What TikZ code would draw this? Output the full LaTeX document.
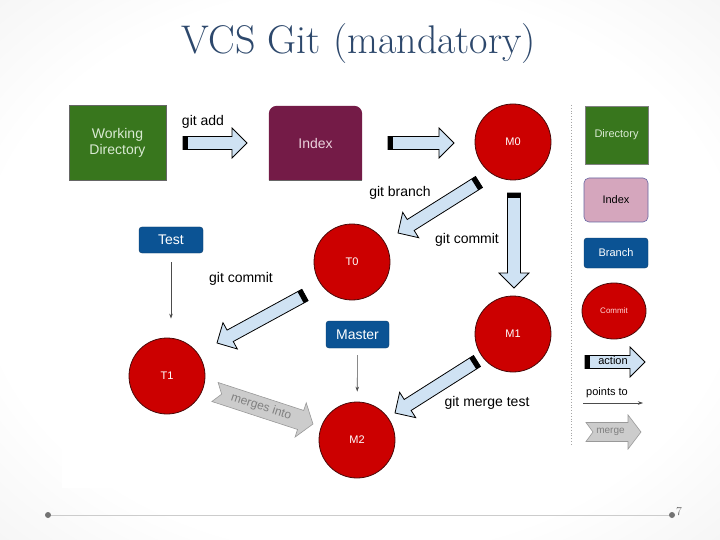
\documentclass[tikz,border=0pt]{standalone}
\usepackage{fontspec}
\setsansfont{Liberation Sans}
\usetikzlibrary{calc,shapes.geometric,arrows.meta}
\definecolor{wdgreen}{HTML}{38761D}
\definecolor{wdtext}{HTML}{D9EAD3}
\definecolor{idxpurple}{HTML}{741B47}
\definecolor{idxtext}{HTML}{EAD1DC}
\definecolor{idxpink}{HTML}{D5A6BD}
\definecolor{brblue}{HTML}{0B5394}
\definecolor{cmred}{HTML}{CC0000}
\definecolor{cmborder}{HTML}{4A0A0A}
\definecolor{actblue}{HTML}{CFE2F3}
\definecolor{titlecol}{RGB}{45,72,108}
\pgfdeclareradialshading{slidebg}{\pgfpoint{0bp}{0bp}}{color(0bp)=(white); color(26bp)=(white); color(50bp)=(black!9); color(72bp)=(black!17)}
\newcommand\actarrow[2]{%
  \coordinate (aa-n) at ($(#2)!15pt!(#1)$);
  \coordinate (aa-b) at ($(#1)!5pt!(#2)$);
  \draw[actionfill] ($(#1)!6.5pt!90:(#2)$) -- ($(aa-n)!6.5pt!90:(#2)$) -- ($(aa-n)!15pt!90:(#2)$) -- (#2) -- ($(aa-n)!15pt!-90:(#2)$) -- ($(aa-n)!6.5pt!-90:(#2)$) -- ($(#1)!6.5pt!-90:(#2)$) -- cycle;
  \fill[black] ($(#1)!6.5pt!90:(#2)$) -- ($(aa-b)!6.5pt!90:(#2)$) -- ($(aa-b)!6.5pt!-90:(#2)$) -- ($(#1)!6.5pt!-90:(#2)$) -- cycle;
}
\newcommand\mergearrow[5]{% tail, tip, half width, text, font size
  \coordinate (ma-n) at ($(#2)!13pt!(#1)$);
  \coordinate (ma-c) at ($(#1)!7pt!(#2)$);
  \draw[mergefill] ($(#1)!#3!90:(#2)$) -- ($(ma-n)!#3!90:(#2)$) -- ($(ma-n)!1.8*#3!90:(#2)$) -- (#2) -- ($(ma-n)!1.8*#3!-90:(#2)$) -- ($(ma-n)!#3!-90:(#2)$) -- ($(#1)!#3!-90:(#2)$) -- (ma-c) -- cycle;
  \path (ma-c) -- (ma-n) node[midway, sloped, mergetext, font=\sffamily\fontsize{#5}{#5}\selectfont] {#4};
}
\begin{document}
\begin{tikzpicture}[x=1pt,y=-1pt,
  every node/.style={font=\sffamily},
  lbl/.style={font=\sffamily\fontsize{14}{16}\selectfont, text=black, inner sep=0pt},
  commit/.style={circle, fill=cmred, draw=cmborder, line width=0.8pt, minimum size=76pt, text=white, font=\sffamily\fontsize{11}{13}\selectfont},
  branch/.style={rectangle, rounded corners=3pt, fill=brblue, draw=brblue!70!black, text=white, font=\sffamily\fontsize{14}{16}\selectfont},
  actionfill/.style={fill=actblue, draw=black, line width=0.8pt, line join=miter},
  mergefill/.style={fill=black!20, draw=black!40, line width=0.6pt},
  mergetext/.style={text=black!50, inner sep=0pt},
  pointsto/.style={draw=black!70, line width=0.6pt, -{Stealth[length=5pt,width=3.5pt]}}]
% background
\shade[shading=slidebg] (0,0) rectangle (720,540);
\useasboundingbox (0,0) rectangle (720,540);
\fill[white] (62,98) rectangle (568,488);
% title
\node[font=\rmfamily\fontsize{40}{44}\selectfont, text=titlecol] (title) at (359,44) {VCS Git (mandatory)};
% main nodes
\node[rectangle, fill=wdgreen, draw=black!60, minimum width=97pt, minimum height=75pt, text=wdtext, align=center, font=\sffamily\fontsize{14}{16}\selectfont] (wd) at (117.5,142.5) {Working\\Directory};
\node[minimum width=93pt, minimum height=74pt] (idx) at (315.5,143) {};
\fill[idxpurple] (idx.south west) -- ([yshift=-8pt]idx.north west) arc[start angle=180, end angle=90, radius=8pt] -- ([xshift=-8pt]idx.north east) arc[start angle=90, end angle=0, radius=8pt] -- (idx.south east) -- cycle;
\draw[black!60, line width=0.6pt] (idx.south west) -- (idx.south east);
\node[text=idxtext, font=\sffamily\fontsize{14}{16}\selectfont] (idxlabel) at (idx.center) {Index};
\node[commit] (m0) at (513,142) {M0};
\node[commit] (t0) at (352,262) {T0};
\node[commit] (m1) at (513,334) {M1};
\node[commit] (t1) at (167,376) {T1};
\node[commit] (m2) at (357,440) {M2};
\node[branch, minimum width=64pt, minimum height=26pt] (test) at (171,240) {Test};
\node[branch, minimum width=63pt, minimum height=27pt] (master) at (357.5,334.5) {Master};
% labels
\node[lbl] (lgitadd) at (203,122) {git add};
\node[lbl] (lbranch) at (400,193) {git branch};
\node[lbl] (lcommit1) at (467,240) {git commit};
\node[lbl] (lcommit2) at (241,279) {git commit};
\node[lbl] (lmerge) at (487,403) {git merge test};
% action arrows
\coordinate (a1s) at (183,143); \coordinate (a1e) at (247,143);
\actarrow{a1s}{a1e}
\coordinate (a2s) at (388,143); \coordinate (a2e) at (454,143);
\actarrow{a2s}{a2e}
\coordinate (a3s) at (479,182); \coordinate (a3e) at (398,233);
\actarrow{a3s}{a3e}
\coordinate (a4s) at (514,193); \coordinate (a4e) at (514,288);
\actarrow{a4s}{a4e}
\coordinate (a5s) at (305,295); \coordinate (a5e) at (217,343);
\actarrow{a5s}{a5e}
\coordinate (a6s) at (477,361); \coordinate (a6e) at (395,413);
\actarrow{a6s}{a6e}
% pointer arrows
\draw[pointsto, shorten <=9pt, shorten >=19pt] (test) -- (test |- t1.north);
\draw[pointsto, shorten <=7pt, shorten >=10pt] (master) -- (m2);
% merges into
\coordinate (mgs) at (215,392); \coordinate (mge) at (313,424);
\mergearrow{mgs}{mge}{10pt}{merges into}{12}
% legend
\draw[black!35, dotted, line width=0.8pt] (571,105) -- (571,445);
\node[rectangle, fill=wdgreen, draw=black!50, minimum width=63pt, minimum height=58pt, text=wdtext, font=\sffamily\fontsize{11}{13}\selectfont] (ldir) at (616.5,135) {Directory};
\node[rectangle, rounded corners=5pt, fill=idxpink, draw=black!60!blue!60, line width=0.6pt, minimum width=64pt, minimum height=44pt, text=black, font=\sffamily\fontsize{11}{13}\selectfont] (lidx) at (616,200) {Index};
\node[branch, minimum width=64pt, minimum height=30pt, font=\sffamily\fontsize{11}{13}\selectfont] (lbr) at (616,253) {Branch};
\node[ellipse, fill=cmred, draw=cmborder, line width=0.8pt, minimum width=64pt, minimum height=56pt, text=white!85!red, font=\sffamily\fontsize{8}{9}\selectfont] (lcm) at (614,311) {Commit};
\coordinate (las) at (585,362); \coordinate (lae) at (645,362);
\actarrow{las}{lae}
\node[font=\sffamily\fontsize{11}{13}\selectfont, inner sep=0pt] (laction) at (613,361) {action};
\node[lbl, font=\sffamily\fontsize{11}{13}\selectfont] (lpt) at (607,393) {points to};
\coordinate (lps) at (583,403); \coordinate (lpe) at (643,403);
\draw[pointsto] (lps) -- (lpe);
\coordinate (lms) at (586,432); \coordinate (lme) at (641,432);
\mergearrow{lms}{lme}{9.5pt}{merge}{10}
% footer
\draw[black!20, line width=0.5pt] (48,515) -- (672,515);
\fill[black!55] (48,515) circle[radius=3pt];
\fill[black!55] (672,515) circle[radius=3pt];
\node[font=\rmfamily\fontsize{12}{14}\selectfont, text=black!60] (pg) at (679,512) {7};
\end{tikzpicture}
\end{document}
